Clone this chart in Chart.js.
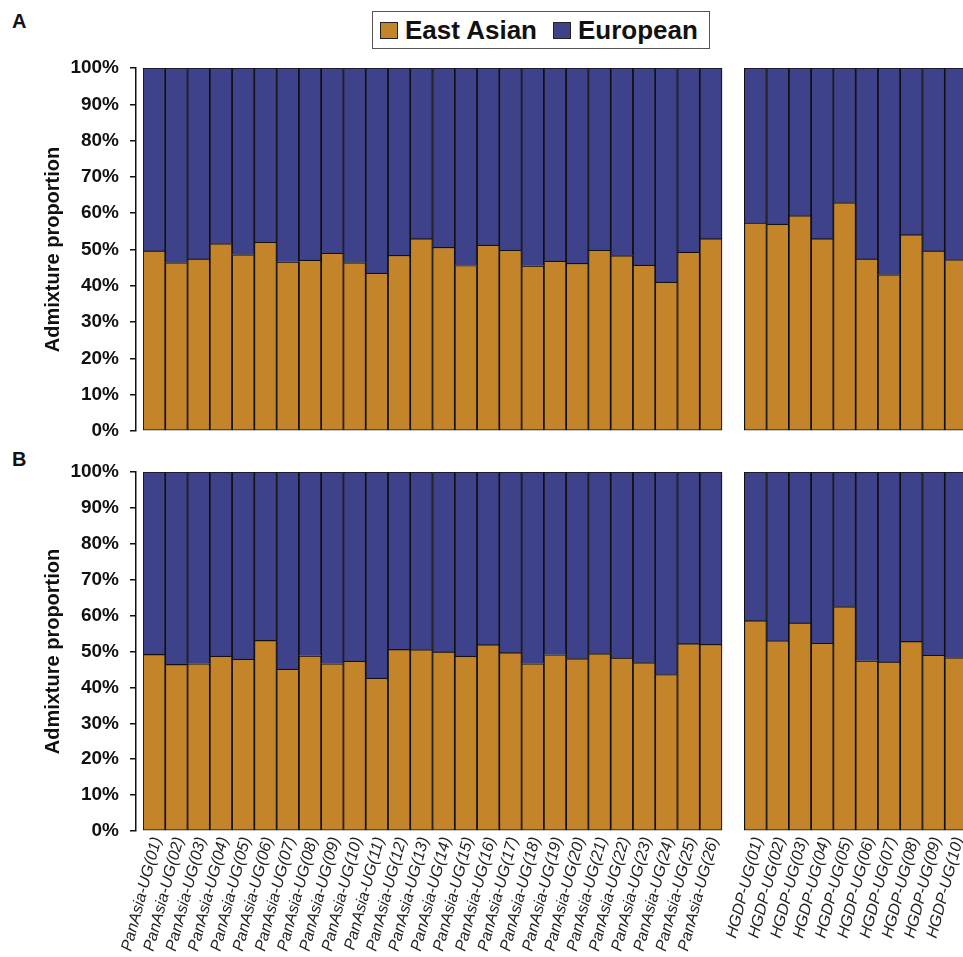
<!DOCTYPE html>
<html>
<head>
<meta charset="utf-8">
<script src="https://cdn.jsdelivr.net/npm/chart.js@4.4.1/dist/chart.umd.min.js"></script>
<style>
  html, body { margin: 0; padding: 0; background: #fff; overflow: hidden; width: 963px; height: 957px; }
  #wrap { position: relative; width: 970px; height: 957px; }
  .tag { position: absolute; font: bold 20px "Liberation Sans", Arial, sans-serif; color: #111; line-height: 1; }
  #legend { position: absolute; left: 372px; top: 11px; width: 336px; height: 36px; border: 1px solid #555;
            display: flex; align-items: center; font: bold 26px "Liberation Sans", Arial, sans-serif; color: #111; }
  .sw { display: inline-block; width: 16px; height: 15px; border: 1px solid #222; margin: 0 7px 0 7px; }
  .cv { position: absolute; left: 0; }
</style>
</head>
<body>
<div id="wrap">
  <div class="tag" style="left:12px;top:11px;">A</div>
  <div class="tag" style="left:12px;top:449px;">B</div>
  <div id="legend">
    <span class="sw" style="background:#C4852A"></span><span>East Asian</span>
    <span class="sw" style="background:#3E428B;margin-left:16px"></span><span>European</span>
  </div>
  <div class="cv" style="top:0;width:970px;height:440px;"><canvas id="chartA"></canvas></div>
  <div class="cv" style="top:440px;width:970px;height:517px;"><canvas id="chartB"></canvas></div>
</div>
<script>
// Sample names
const panAsiaLabels = ['PanAsia-UG(01)','PanAsia-UG(02)','PanAsia-UG(03)','PanAsia-UG(04)','PanAsia-UG(05)',
  'PanAsia-UG(06)','PanAsia-UG(07)','PanAsia-UG(08)','PanAsia-UG(09)','PanAsia-UG(10)','PanAsia-UG(11)',
  'PanAsia-UG(12)','PanAsia-UG(13)','PanAsia-UG(14)','PanAsia-UG(15)','PanAsia-UG(16)','PanAsia-UG(17)',
  'PanAsia-UG(18)','PanAsia-UG(19)','PanAsia-UG(20)','PanAsia-UG(21)','PanAsia-UG(22)','PanAsia-UG(23)',
  'PanAsia-UG(24)','PanAsia-UG(25)','PanAsia-UG(26)'];
const hgdpLabels = ['HGDP-UG(01)','HGDP-UG(02)','HGDP-UG(03)','HGDP-UG(04)','HGDP-UG(05)',
  'HGDP-UG(06)','HGDP-UG(07)','HGDP-UG(08)','HGDP-UG(09)','HGDP-UG(10)'];

// Y axis ticks (percent)
const yTicks = [0, 10, 20, 30, 40, 50, 60, 70, 80, 90, 100];

// Panel A admixture proportions (%)
const eastAsianPanA = [49.6,46.4,47.4,51.6,48.6,52.0,46.6,47.1,49.0,46.4,43.5,48.4,53.0,50.6,45.6,51.2,49.8,45.5,46.8,46.2,49.8,48.3,45.7,41.0,49.3,53.0];
const europeanPanA  = [50.4,53.6,52.6,48.4,51.4,48.0,53.4,52.9,51.0,53.6,56.5,51.6,47.0,49.4,54.4,48.8,50.2,54.5,53.2,53.8,50.2,51.7,54.3,59.0,50.7,47.0];
const eastAsianHgdpA = [57.3,57.0,59.3,53.0,62.9,47.4,43.1,54.1,49.6,47.2];
const europeanHgdpA  = [42.7,43.0,40.7,47.0,37.1,52.6,56.9,45.9,50.4,52.8];

// Panel B admixture proportions (%)
const eastAsianPanB = [49.2,46.4,46.6,48.7,47.9,53.1,45.1,48.8,46.6,47.3,42.6,50.6,50.5,49.9,48.7,51.9,49.7,46.6,49.1,48.0,49.4,48.2,46.9,43.6,52.2,52.0];
const europeanPanB  = [50.8,53.6,53.4,51.3,52.1,46.9,54.9,51.2,53.4,52.7,57.4,49.4,49.5,50.1,51.3,48.1,50.3,53.4,50.9,52.0,50.6,51.8,53.1,56.4,47.8,48.0];
const eastAsianHgdpB = [58.6,53.0,58.0,52.3,62.5,47.4,47.1,52.8,49.0,48.3];
const europeanHgdpB  = [41.4,47.0,42.0,47.7,37.5,52.6,52.9,47.2,51.0,51.7];

const ORANGE = '#C4852A';
const BLUE = '#3E428B';
const EDGE = '#111';
const FONT = '"Liberation Sans", Arial, sans-serif';

// an empty slot separates the two sample groups
const labels = [...panAsiaLabels, '', ...hgdpLabels];
const join = (a, b) => [...a, null, ...b];

// move the y axis a few pixels away from the first bar
const axisGap = {
  id: 'axisGap',
  afterLayout(chart, args, opts) {
    const s = chart.scales.y;
    s.left -= opts.gap;
    s.right -= opts.gap;
  }
};

function makeChart(id, ea, eu, opt) {
  return new Chart(document.getElementById(id), {
    type: 'bar',
    data: {
      labels,
      datasets: [
        { label: 'East Asian', data: ea, backgroundColor: ORANGE, borderColor: EDGE,
          borderWidth: 1.2, borderSkipped: false },
        { label: 'European', data: eu, backgroundColor: BLUE, borderColor: EDGE,
          borderWidth: 1.2, borderSkipped: 'start' }
      ]
    },
    plugins: [axisGap],
    options: {
      responsive: true,
      maintainAspectRatio: false,
      animation: false,
      datasets: { bar: { barPercentage: 1, categoryPercentage: 1 } },
      layout: { padding: { top: opt.padTop, right: 3, left: 0, bottom: 0 } },
      plugins: {
        legend: { display: false },
        tooltip: { enabled: false },
        axisGap: { gap: 7 }
      },
      scales: {
        x: {
          stacked: true,
          grid: { display: false, drawTicks: false },
          border: { display: false },
          afterFit(s) { s.height = opt.xHeight; s.paddingLeft = 0; s.paddingRight = 0; },
          ticks: {
            display: opt.showX,
            autoSkip: false,
            minRotation: 75,
            maxRotation: 75,
            padding: 4,
            labelOffset: 3,
            color: '#222',
            font: { family: FONT, size: 16, style: 'italic' }
          }
        },
        y: {
          stacked: true,
          min: 0,
          max: 100,
          afterFit(s) { s.width = 143; s.paddingTop = 0; s.paddingBottom = 0; },
          afterBuildTicks(s) { s.ticks = yTicks.map(v => ({ value: v })); },
          grid: { drawOnChartArea: false, drawTicks: true, tickLength: 6, color: '#111', lineWidth: 1.5 },
          border: { display: true, color: '#111', width: 1.5 },
          ticks: {
            padding: 11,
            color: '#111',
            font: { family: FONT, size: 19, weight: 'bold' },
            callback: v => v + '%'
          },
          title: {
            display: true,
            text: 'Admixture proportion',
            color: '#111',
            font: { family: FONT, size: 20, weight: 'bold' },
            padding: { top: 48, bottom: 0 }
          }
        }
      }
    }
  });
}

makeChart('chartA', join(eastAsianPanA, eastAsianHgdpA), join(europeanPanA, europeanHgdpA),
  { padTop: 68, xHeight: 9, showX: false });
makeChart('chartB', join(eastAsianPanB, eastAsianHgdpB), join(europeanPanB, europeanHgdpB),
  { padTop: 32, xHeight: 126, showX: true });
</script>
</body>
</html>
